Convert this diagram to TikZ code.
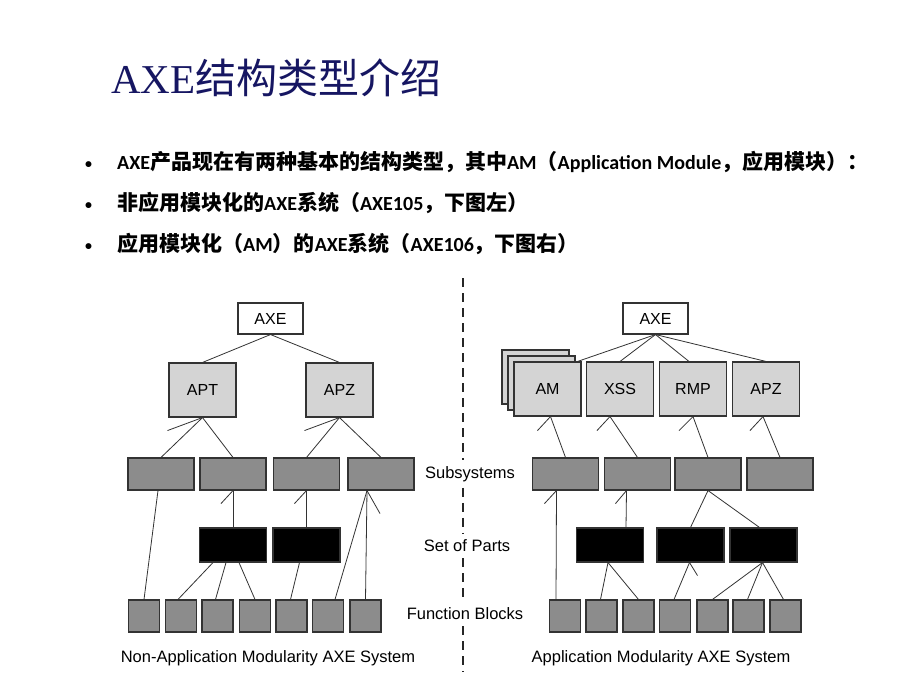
\documentclass[tikz,border=0pt]{standalone}
\usepackage{fontspec}
\setmainfont{Carlito}
\newfontfamily\zhfont{Noto Sans CJK SC}
\newfontfamily\arialfont{Liberation Sans}
\newfontfamily\seriffont{Liberation Serif}
\definecolor{titleblue}{RGB}{22,22,98}
\definecolor{boxline}{RGB}{51,51,51}
\definecolor{lightbox}{RGB}{212,212,212}
\definecolor{midbox}{RGB}{140,140,140}
\newcommand{\zh}[1]{{\zhfont\fontsize{21}{23}\selectfont #1}}

\begin{document}
\begin{tikzpicture}[x=1pt, y=-1pt, every node/.style={inner sep=0pt},
  blk/.style={draw=boxline, line width=1.1pt, font=\arialfont\fontsize{16}{18}\selectfont},
  topbox/.style={blk, fill=white, minimum width=65pt, minimum height=31pt},
  modbox/.style={blk, fill=lightbox, minimum width=67pt, minimum height=54pt},
  subbox/.style={blk, fill=midbox, minimum width=66pt, minimum height=32pt},
  partbox/.style={blk, fill=black, minimum width=67pt, minimum height=34pt},
  fbbox/.style={blk, fill=midbox, minimum width=31pt, minimum height=32pt},
  link/.style={draw=boxline, line width=0.8pt},
  divider/.style={draw=black!85, line width=1.3pt, dash pattern=on 9pt off 6pt},
  lab/.style={inner xsep=2pt, inner ysep=6pt, font=\arialfont\fontsize{16.5}{18}\selectfont},
  dot/.style={anchor=base west, font=\bfseries\fontsize{14}{16}\selectfont},
  bul/.style={anchor=base west, font=\bfseries\fontsize{20}{23}\selectfont}]
\fill[white] (0,0) rectangle (920,690);

\node[anchor=base west, text=titleblue] (title) at (111,94) {{\seriffont\fontsize{41}{48}\selectfont AXE}{\zhfont\fontsize{41}{48}\selectfont 结构类型介绍}};
\node[dot] (d1) at (85,168.5) {•};
\node[dot] (d2) at (85,209) {•};
\node[dot] (d3) at (85,250.5) {•};
\node[bul] (t1) at (117,169.5) {AXE\zh{产品现在有两种基本的结构类型，其中}AM\zh{（}Application Module\zh{，应用模块）：}};
\node[bul] (t2) at (117,210) {\zh{非应用模块化的}AXE\zh{系统（}AXE105\zh{，下图左）}};
\node[bul] (t3) at (117,251.5) {\zh{应用模块化（}AM\zh{）的}AXE\zh{系统（}AXE106\zh{，下图右）}};

\node[lab] (subl) at (470,474) {Subsystems};
\node[lab] (sopl) at (467,546) {Set of Parts};
\node[lab] (fbl) at (465,614) {Function Blocks};
\node[lab] (capl) at (268,658) {Non-Application Modularity AXE System};
\node[lab] (capr) at (661,658) {Application Modularity AXE System};

\coordinate (dtop) at (463,278);
\coordinate (dbot) at (463,672);
\draw[divider] (dtop) -- (dtop |- subl.north);
\draw[divider] (dtop |- subl.south) -- (dtop |- sopl.north);
\draw[divider] (dtop |- sopl.south) -- (dtop |- fbl.north);
\draw[divider] (dtop |- fbl.south) -- (dbot);

\node[topbox] (axel) at (270.5,318.5) {AXE};
\node[modbox] (apt) at (202.5,390) {APT};
\node[modbox] (apzl) at (339.5,390) {APZ};
\node[subbox] (sl1) at (161,474) {};
\node[subbox] (sl2) at (233,474) {};
\node[subbox] (sl3) at (306.5,474) {};
\node[subbox] (sl4) at (381,474) {};
\node[partbox] (pl1) at (233,545) {};
\node[partbox] (pl2) at (306.5,545) {};
\node[fbbox] (fl1) at (144,616) {};
\node[fbbox] (fl2) at (181,616) {};
\node[fbbox] (fl3) at (217.5,616) {};
\node[fbbox] (fl4) at (255,616) {};
\node[fbbox] (fl5) at (291.5,616) {};
\node[fbbox] (fl6) at (328,616) {};
\node[fbbox] (fl7) at (365.5,616) {};

\draw[link] (axel.south) -- (apt.north);
\draw[link] (axel.south) -- (apzl.north);
\draw[link] (apt.south) -- (sl1.north);
\draw[link] (apt.south) -- (sl2.north);
\draw[link] (apt.south) -- ++(-35,13);
\draw[link] (apzl.south) -- (sl3.north);
\draw[link] (apzl.south) -- (sl4.north);
\draw[link] (apzl.south) -- ++(-35,13);
\draw[link] ([xshift=-3pt]sl1.south) -- (fl1.north);
\draw[link] (sl2.south) -- (pl1.north);
\draw[link] (sl2.south) -- ++(-12,13);
\draw[link] (sl3.south) -- (pl2.north);
\draw[link] (sl3.south) -- ++(-12,13);
\draw[link] ([xshift=-14pt]sl4.south) -- ([xshift=7pt]fl6.north);
\draw[link] ([xshift=-14pt]sl4.south) -- (fl7.north);
\draw[link] ([xshift=-14pt]sl4.south) -- ++(13,23);
\draw[link] ([xshift=-20pt]pl1.south) -- ([xshift=-3pt]fl2.north);
\draw[link] ([xshift=-7pt]pl1.south) -- ([xshift=-2pt]fl3.north);
\draw[link] ([xshift=6pt]pl1.south) -- (fl4.north);
\draw[link] ([xshift=-7pt]pl2.south) -- ([xshift=-1pt]fl5.north);

\node[topbox] (axer) at (655.5,318.5) {AXE};
\node[modbox] (amc) at (535.5,377) {};
\node[modbox] (amb) at (541.5,383) {};
\node[modbox] (am) at (547.5,389) {AM};
\node[modbox] (xss) at (620,389) {XSS};
\node[modbox] (rmp) at (693,389) {RMP};
\node[modbox] (apzr) at (766,389) {APZ};
\node[subbox] (sr1) at (565.5,474) {};
\node[subbox] (sr2) at (637.5,474) {};
\node[subbox] (sr3) at (708,474) {};
\node[subbox] (sr4) at (780,474) {};
\node[partbox] (pr1) at (610,545) {};
\node[partbox] (pr2) at (690.5,545) {};
\node[partbox] (pr3) at (763.5,545) {};
\node[fbbox] (fr1) at (565,616) {};
\node[fbbox] (fr2) at (601.5,616) {};
\node[fbbox] (fr3) at (638.5,616) {};
\node[fbbox] (fr4) at (675,616) {};
\node[fbbox] (fr5) at (712.5,616) {};
\node[fbbox] (fr6) at (748.5,616) {};
\node[fbbox] (fr7) at (785.5,616) {};

\draw[link] (axer.south) -- ([xshift=-4pt]am.north east);
\draw[link] (axer.south) -- (xss.north);
\draw[link] (axer.south) -- ([xshift=-4pt]rmp.north);
\draw[link] (axer.south) -- (apzr.north);
\draw[link] ([xshift=3pt]am.south) -- (sr1.north);
\draw[link] ([xshift=3pt]am.south) -- ++(-13,14);
\draw[link] ([xshift=-10pt]xss.south) -- (sr2.north);
\draw[link] ([xshift=-10pt]xss.south) -- ++(-13,14);
\draw[link] (rmp.south) -- (sr3.north);
\draw[link] (rmp.south) -- ++(-14,14);
\draw[link] ([xshift=-3pt]apzr.south) -- (sr4.north);
\draw[link] ([xshift=-3pt]apzr.south) -- ++(-13,14);
\draw[link] ([xshift=-9pt]sr1.south) -- ([xshift=-9pt]fr1.north);
\draw[link] ([xshift=-9pt]sr1.south) -- ++(-12,13);
\draw[link] ([xshift=-11pt]sr2.south) -- ([xshift=16pt]pr1.north);
\draw[link] ([xshift=-11pt]sr2.south) -- ++(-11,13);
\draw[link] (sr3.south) -- (pr2.north);
\draw[link] (sr3.south) -- ([xshift=-4pt]pr3.north);
\draw[link] ([xshift=-2pt]pr1.south) -- ([xshift=-1pt]fr2.north);
\draw[link] ([xshift=-2pt]pr1.south) -- (fr3.north);
\draw[link] ([xshift=-1pt]pr2.south) -- ([xshift=-1pt]fr4.north);
\draw[link] ([xshift=-1pt]pr2.south) -- ++(8,13);
\draw[link] ([xshift=-1pt]pr3.south) -- (fr5.north);
\draw[link] ([xshift=-1pt]pr3.south) -- ([xshift=-1pt]fr6.north);
\draw[link] ([xshift=-1pt]pr3.south) -- ([xshift=-2pt]fr7.north);
\end{tikzpicture}
\end{document}
